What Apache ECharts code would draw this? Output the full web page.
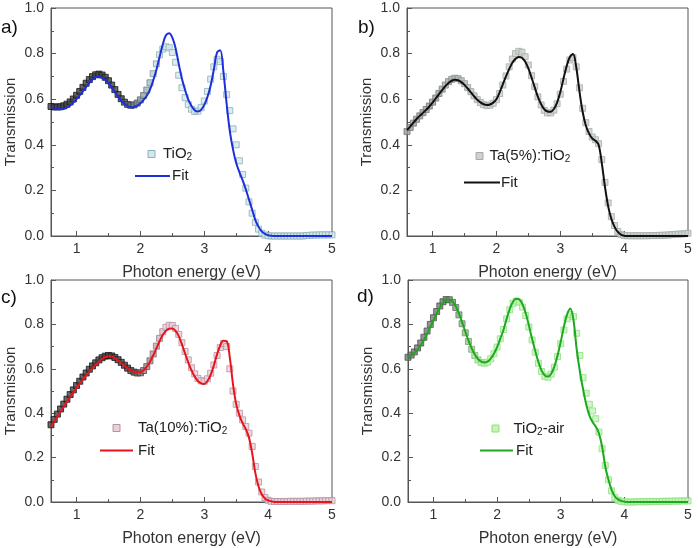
<!DOCTYPE html>
<html><head><meta charset="utf-8">
<script src="https://cdn.jsdelivr.net/npm/echarts@6.0.0/dist/echarts.min.js"></script>
<style>html,body{margin:0;padding:0;background:#fff}#c{width:698px;height:548px}</style>
</head><body><div id="c"></div>
<script>
// Photon energy grid (eV)
const energy = [
0.60,0.65,0.70,0.75,0.80,0.85,0.90,0.95,1.00,1.05,
1.10,1.15,1.20,1.25,1.30,1.35,1.40,1.45,1.50,1.55,
1.60,1.65,1.70,1.75,1.80,1.85,1.90,1.95,2.00,2.05,
2.10,2.15,2.20,2.25,2.30,2.35,2.40,2.45,2.50,2.55,
2.60,2.65,2.70,2.75,2.80,2.85,2.90,2.95,3.00,3.05,
3.10,3.15,3.20,3.25,3.30,3.35,3.40,3.45,3.50,3.55,
3.60,3.65,3.70,3.75,3.80,3.85,3.90,3.95,4.00,4.05,
4.10,4.15,4.20,4.25,4.30,4.35,4.40,4.45,4.50,4.55,
4.60,4.65,4.70,4.75,4.80,4.85,4.90,4.95,5.00];

// a) TiO2
const dataA = [
0.568,0.566,0.566,0.567,0.571,0.578,0.588,0.601,0.617,0.634,
0.652,0.670,0.686,0.699,0.707,0.710,0.706,0.696,0.681,0.662,
0.642,0.621,0.602,0.587,0.577,0.573,0.575,0.583,0.597,0.616,
0.640,0.672,0.712,0.755,0.795,0.820,0.830,0.826,0.805,0.762,
0.705,0.650,0.607,0.576,0.556,0.546,0.548,0.563,0.592,0.634,
0.688,0.742,0.775,0.765,0.700,0.620,0.550,0.470,0.400,0.330,
0.270,0.210,0.150,0.100,0.060,0.030,0.012,0.004,0.001,0,
0,0,0,0,0,0,0,0,0,0,
0.002,0.003,0.004,0.004,0.005,0.005,0.005,0.005,0.005];
const fitA = [
0.566,0.560,0.557,0.556,0.558,0.564,0.573,0.585,0.600,0.617,
0.635,0.654,0.672,0.687,0.697,0.699,0.695,0.685,0.670,0.652,
0.632,0.612,0.594,0.580,0.570,0.565,0.566,0.572,0.582,0.597,
0.615,0.642,0.682,0.728,0.785,0.840,0.880,0.889,0.870,0.825,
0.755,0.690,0.640,0.598,0.570,0.552,0.546,0.553,0.575,0.610,
0.660,0.730,0.805,0.815,0.720,0.580,0.460,0.380,0.320,0.280,
0.245,0.205,0.160,0.115,0.070,0.040,0.020,0.009,0.003,0.001,
0,0,0,0,0,0,0,0,0,0,
0,0,0,0,0,0,0,0,0];

// b) Ta(5%):TiO2
const dataB = [
0.458,0.476,0.495,0.512,0.527,0.541,0.555,0.570,0.587,0.605,
0.625,0.644,0.662,0.677,0.687,0.692,0.690,0.681,0.668,0.651,
0.633,0.615,0.598,0.585,0.576,0.572,0.574,0.582,0.598,0.625,
0.662,0.702,0.742,0.776,0.800,0.810,0.806,0.786,0.750,0.703,
0.655,0.610,0.575,0.551,0.540,0.540,0.552,0.580,0.622,0.678,
0.732,0.772,0.782,0.742,0.650,0.560,0.497,0.458,0.434,0.422,
0.405,0.335,0.235,0.145,0.085,0.046,0.020,0.007,0.002,0.001,
0.001,0.001,0.001,0.001,0.001,0.001,0.002,0.002,0.002,0.003,
0.003,0.004,0.005,0.006,0.007,0.008,0.009,0.010,0.012];
const fitB = [
0.465,0.480,0.497,0.513,0.527,0.540,0.553,0.568,0.585,0.603,
0.622,0.640,0.657,0.671,0.681,0.685,0.683,0.675,0.663,0.647,
0.630,0.613,0.598,0.586,0.578,0.575,0.577,0.585,0.600,0.630,
0.665,0.700,0.732,0.760,0.777,0.785,0.782,0.765,0.735,0.695,
0.652,0.610,0.578,0.556,0.546,0.545,0.557,0.585,0.630,0.690,
0.745,0.785,0.798,0.740,0.635,0.545,0.485,0.450,0.428,0.418,
0.400,0.320,0.215,0.130,0.075,0.040,0.018,0.006,0.001,0,
0,0,0,0,0,0,0,0,0,0,
0,0,0,0,0,0,0,0,0];

// c) Ta(10%):TiO2
const dataC = [
0.348,0.372,0.396,0.419,0.441,0.463,0.484,0.505,0.525,0.544,
0.563,0.581,0.598,0.613,0.627,0.640,0.650,0.657,0.660,0.658,
0.651,0.641,0.629,0.616,0.603,0.592,0.585,0.581,0.582,0.592,
0.610,0.636,0.667,0.702,0.737,0.767,0.787,0.796,0.795,0.782,
0.755,0.718,0.678,0.640,0.605,0.577,0.557,0.546,0.544,0.555,
0.580,0.617,0.660,0.696,0.714,0.700,0.600,0.500,0.440,0.400,
0.370,0.340,0.310,0.250,0.160,0.090,0.045,0.020,0.008,0.003,
0.002,0.002,0.002,0.002,0.002,0.003,0.003,0.003,0.003,0.003,
0.004,0.004,0.004,0.005,0.005,0.005,0.006,0.006,0.006];
const fitC = [
0.338,0.362,0.385,0.408,0.430,0.452,0.473,0.494,0.514,0.533,
0.552,0.570,0.587,0.603,0.618,0.632,0.644,0.653,0.657,0.655,
0.648,0.638,0.626,0.614,0.602,0.593,0.587,0.584,0.585,0.594,
0.610,0.632,0.660,0.692,0.724,0.752,0.771,0.780,0.781,0.771,
0.747,0.710,0.668,0.628,0.593,0.565,0.545,0.534,0.532,0.545,
0.573,0.615,0.665,0.705,0.726,0.725,0.650,0.530,0.440,0.390,
0.355,0.328,0.290,0.220,0.130,0.070,0.035,0.016,0.007,0.003,
0,0,0,0,0,0,0,0,0,0,
0,0,0,0,0,0,0,0,0];

// d) TiO2-air
const dataD = [
0.652,0.662,0.676,0.694,0.716,0.742,0.770,0.800,0.830,0.858,
0.883,0.902,0.912,0.911,0.899,0.876,0.843,0.803,0.762,0.723,
0.688,0.660,0.640,0.628,0.625,0.630,0.645,0.668,0.698,0.735,
0.777,0.825,0.866,0.895,0.905,0.900,0.878,0.840,0.788,0.730,
0.675,0.625,0.588,0.566,0.562,0.576,0.607,0.655,0.713,0.775,
0.825,0.845,0.835,0.760,0.660,0.560,0.490,0.440,0.410,0.375,
0.315,0.240,0.165,0.100,0.050,0.020,0.008,0.003,0.001,0,
0,0,0.001,0.001,0.001,0.001,0.002,0.002,0.002,0.002,
0.003,0.003,0.003,0.004,0.004,0.004,0.005,0.005,0.005];
const fitD = [
0.655,0.660,0.670,0.685,0.705,0.730,0.758,0.788,0.818,0.848,
0.876,0.897,0.910,0.912,0.903,0.882,0.850,0.810,0.768,0.728,
0.693,0.664,0.644,0.632,0.628,0.632,0.646,0.668,0.698,0.735,
0.775,0.825,0.870,0.902,0.915,0.912,0.890,0.850,0.795,0.735,
0.680,0.630,0.592,0.570,0.565,0.578,0.610,0.660,0.722,0.790,
0.845,0.872,0.820,0.690,0.590,0.510,0.440,0.390,0.360,0.340,
0.310,0.250,0.160,0.100,0.055,0.025,0.012,0.005,0.002,0,
0,0,0,0,0,0,0,0,0,0,
0,0,0,0,0,0,0,0,0];

const yTicks = ['0.0','0.2','0.4','0.6','0.8','1.0'];
const xTickLabels = ['1','2','3','4','5'];
const panelLetters = ['a)','b)','c)','d)'];
const dataNames = ['TiO{sub|2}','Ta(5%):TiO{sub|2}','Ta(10%):TiO{sub|2}','TiO{sub|2}-air'];
const fitName = 'Fit';

const FONT = 'Liberation Sans, Arial, Helvetica, sans-serif';
const panels = [
  {grid:{left:51,top:8,width:281,height:228}, data:dataA, fit:fitA, fitColor:'#1d2fdc',
   dark:[25,25,25], light:[140,176,184], fill:[210,232,236], mixFrom:1.7, mixTo:2.3,
   leg:{mx:151.5,my:154,tx:163,ly:176,lx1:135,lx2:170,fx:172}, letter:{left:1,top:18}},
  {grid:{left:407,top:8,width:281,height:228}, data:dataB, fit:fitB, fitColor:'#111111',
   dark:[115,120,118], light:[165,172,168], fill:[205,210,206], mixFrom:1.0, mixTo:1.8,
   leg:{mx:479.5,my:156,tx:489.5,ly:182.5,lx1:464,lx2:500,fx:501}, letter:{left:358,top:18}},
  {grid:{left:51,top:280,width:281,height:225}, data:dataC, fit:fitC, fitColor:'#e8141c',
   dark:[25,25,25], light:[185,145,160], fill:[232,208,217], mixFrom:1.8, mixTo:2.4,
   leg:{mx:116.5,my:428,tx:138,ly:450.5,lx1:100,lx2:133,fx:138}, letter:{left:1,top:288}},
  {grid:{left:408,top:280,width:280,height:225}, data:dataD, fit:fitD, fitColor:'#1fa81f',
   dark:[80,80,80], light:[140,225,125], fill:[195,245,185], mixFrom:1.2, mixTo:1.8,
   leg:{mx:495.5,my:428.5,tx:513.5,ly:450.5,lx1:480,lx2:513,fx:516}, letter:{left:357,top:287}}
];

function mix(a,b,t){return 'rgb('+a.map((v,i)=>Math.round(v+(b[i]-v)*t)).join(',')+')';}

const grids=[], xAxes=[], yAxes=[], series=[], graphics=[];
panels.forEach((p,i)=>{
  grids.push(Object.assign({show:true,borderColor:'#555',borderWidth:1,containLabel:false}, p.grid));
  xAxes.push({type:'value',gridIndex:i,min:0.6,max:5,splitNumber:4,
    name:'Photon energy (eV)',nameLocation:'middle',nameGap:29,
    nameTextStyle:{fontSize:16,color:'#333',fontFamily:FONT},
    axisLine:{show:true,lineStyle:{color:'#555',width:1}},
    axisTick:{show:true,inside:true,length:5,lineStyle:{color:'#555'}},
    minorTick:{show:true,splitNumber:2,length:3,lineStyle:{color:'#555'}},
    splitLine:{show:false},
    axisLabel:{showMinLabel:false,margin:6,fontSize:14,color:'#333',fontFamily:FONT,
      formatter:v=>{const k=xTickLabels.indexOf(String(v));return k>=0?xTickLabels[k]:'';}}
  });
  yAxes.push({type:'value',gridIndex:i,min:0,max:1,interval:0.2,
    name:'Transmission',nameLocation:'middle',nameGap:33,
    nameTextStyle:{fontSize:15,color:'#333',fontFamily:FONT},
    axisLine:{show:true,lineStyle:{color:'#555',width:1}},
    axisTick:{show:true,inside:true,length:5,lineStyle:{color:'#555'}},
    minorTick:{show:true,splitNumber:2,length:3,lineStyle:{color:'#555'}},
    splitLine:{show:false},
    axisLabel:{margin:7,fontSize:14,color:'#333',fontFamily:FONT,
      formatter:v=>yTicks[Math.round(v/0.2)]}
  });
  const items = energy.map((x,k)=>{
    const t=Math.max(0,Math.min(1,(x-p.mixFrom)/(p.mixTo-p.mixFrom)));
    return {value:[x,p.data[k]], itemStyle:{borderColor:mix(p.dark,p.light,t),
      color:mix(p.dark.map(v=>Math.min(255,v+40)),p.fill,t)}};
  });
  series.push({name:'data'+i,type:'scatter',xAxisIndex:i,yAxisIndex:i,symbol:'rect',symbolSize:6,
    itemStyle:{borderWidth:1},data:items,z:2});
  series.push({name:'fit'+i,type:'line',xAxisIndex:i,yAxisIndex:i,smooth:0.35,symbol:'none',showSymbol:false,
    lineStyle:{color:p.fitColor,width:2},itemStyle:{color:p.fitColor},
    data:energy.map((x,k)=>[x,p.fit[k]]),z:3});
  // legend (drawn as graphic elements)
  const L=p.leg;
  graphics.push({type:'rect',x:L.mx-3.5,y:L.my-3.5,shape:{width:7,height:7},
    style:{fill:mix(p.fill,p.fill,0),stroke:mix(p.light,p.light,0),lineWidth:1}});
  graphics.push({type:'text',x:L.tx,y:L.my,style:{text:dataNames[i],fontSize:15,fontFamily:FONT,fill:'#222',
    verticalAlign:'middle',rich:{sub:{fontSize:10,fontFamily:FONT,fill:'#222',padding:[7,0,0,0]}}}});
  graphics.push({type:'line',shape:{x1:L.lx1,y1:L.ly,x2:L.lx2,y2:L.ly},style:{stroke:p.fitColor,lineWidth:2}});
  graphics.push({type:'text',x:L.fx,y:L.ly,style:{text:fitName,fontSize:15,fontFamily:FONT,fill:'#222',verticalAlign:'middle'}});
  graphics.push({type:'text',left:p.letter.left,top:p.letter.top,
    style:{text:panelLetters[i],fontSize:19,fill:'#111',fontFamily:FONT}});
});

const chart = echarts.init(document.getElementById('c'),null,{renderer:'canvas'});
chart.setOption({animation:false,backgroundColor:'#fff',
  grid:grids,xAxis:xAxes,yAxis:yAxes,series:series,graphic:graphics});
</script></body></html>
